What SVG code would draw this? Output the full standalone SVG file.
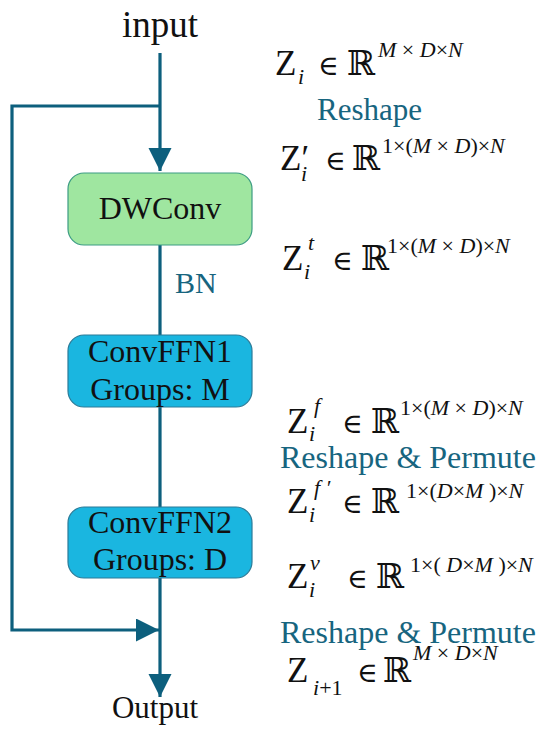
<svg xmlns="http://www.w3.org/2000/svg" width="550" height="736" viewBox="0 0 550 736">
<defs>
<style>
.t{font-family:"Liberation Serif","Times New Roman",serif;fill:#111;}
.lbl{font-size:32px;}
.teal{fill:#17657f;}
.conn{fill:none;stroke:#0d5f7d;stroke-width:3.2;}
.Z{font-family:"Liberation Serif",serif;font-size:35px;fill:#111;}
.sb{font-family:"Liberation Serif",serif;font-size:22px;font-style:italic;fill:#111;}
.sp{font-family:"Liberation Serif",serif;font-size:22px;fill:#111;}
.it{font-style:italic;}
.in{font-family:"DejaVu Serif","Liberation Serif",serif;font-size:28px;fill:#111;}
.R{font-family:"DejaVu Serif","DejaVu Sans",serif;font-size:34px;fill:#111;}
</style>
<marker id="ah" markerUnits="userSpaceOnUse" markerWidth="24" markerHeight="24" refX="23" refY="11.5" orient="auto" viewBox="0 0 24 24">
<path d="M0,0 L23,11.5 L0,23 z" fill="#0d5f7d"/>
</marker>
</defs>
<rect width="550" height="736" fill="#fff"/>

<g id="connectors">
<path class="conn" d="M160,53 V171" marker-end="url(#ah)"/>
<path class="conn" d="M160,106 H12 V630 H159" marker-end="url(#ah)"/>
<path class="conn" d="M160,245 V335"/>
<path class="conn" d="M160,407 V507"/>
<path class="conn" d="M160,578 V697" marker-end="url(#ah)"/>
</g>

<g id="input"><text class="t" x="160" y="37" font-size="37" text-anchor="middle">input</text></g>

<g id="dwconv">
<rect x="68" y="173" width="184" height="72" rx="16" fill="#9fe6a0" stroke="#3c9c83" stroke-width="1.2"/>
<text class="t lbl" x="160" y="219" text-anchor="middle">DWConv</text>
</g>

<g id="bn"><text class="t teal" x="175" y="293" font-size="30">BN</text></g>

<g id="convffn1">
<rect x="68" y="335" width="184" height="72" rx="16" fill="#1ab6e0" stroke="#2b7b98" stroke-width="1.2"/>
<text class="t lbl" x="160" y="362" text-anchor="middle">ConvFFN1</text>
<text class="t lbl" x="160" y="400" text-anchor="middle">Groups: M</text>
</g>

<g id="convffn2">
<rect x="68" y="507" width="184" height="71" rx="16" fill="#1ab6e0" stroke="#2b7b98" stroke-width="1.2"/>
<text class="t lbl" x="160" y="533" text-anchor="middle">ConvFFN2</text>
<text class="t lbl" x="160" y="570" text-anchor="middle">Groups: D</text>
</g>

<g id="output"><text class="t" x="155" y="718" font-size="31" text-anchor="middle">Output</text></g>

<g id="annotations">
<!-- line 1 -->
<text class="Z" x="275" y="75">Z</text>
<text class="sb" x="298" y="84">i</text>
<text class="in" x="318" y="75">∈</text>
<text class="R" x="347" y="75">ℝ</text>
<text class="sp" x="378" y="57"><tspan class="it">M</tspan> × <tspan class="it">D</tspan>×<tspan class="it">N</tspan></text>
<text class="t teal" x="317" y="120" font-size="31">Reshape</text>
<!-- line 2 -->
<text class="Z" x="280" y="170">Z′</text>
<text class="sb" x="301" y="181">i</text>
<text class="in" x="325" y="170">∈</text>
<text class="R" x="352" y="170">ℝ</text>
<text class="sp" x="382" y="153">1×(<tspan class="it">M</tspan> × <tspan class="it">D</tspan>)×<tspan class="it">N</tspan></text>
<!-- line 3 -->
<text class="Z" x="282" y="270">Z</text>
<text class="sb" x="308" y="250">t</text>
<text class="sb" x="304" y="279">i</text>
<text class="in" x="332" y="270">∈</text>
<text class="R" x="361" y="270">ℝ</text>
<text class="sp" x="387" y="253">1×(<tspan class="it">M</tspan> × <tspan class="it">D</tspan>)×<tspan class="it">N</tspan></text>
<!-- line 4 -->
<text class="Z" x="287" y="433">Z</text>
<text class="sb" x="314" y="413">f</text>
<text class="sb" x="309" y="441">i</text>
<text class="in" x="342" y="433">∈</text>
<text class="R" x="371" y="433">ℝ</text>
<text class="sp" x="400" y="415">1×(<tspan class="it">M</tspan> × <tspan class="it">D</tspan>)×<tspan class="it">N</tspan></text>
<text class="t teal" x="280" y="468" font-size="32">Reshape &amp; Permute</text>
<!-- line 5 -->
<text class="Z" x="287" y="513">Z</text>
<text class="sb" x="314" y="495">f ′</text>
<text class="sb" x="309" y="522">i</text>
<text class="in" x="342" y="513">∈</text>
<text class="R" x="371" y="513">ℝ</text>
<text class="sp" x="406" y="498">1×(<tspan class="it">D</tspan>×<tspan class="it">M</tspan> )×<tspan class="it">N</tspan></text>
<!-- line 6 -->
<text class="Z" x="287" y="588">Z</text>
<text class="sb" x="310" y="570">v</text>
<text class="sb" x="309" y="597">i</text>
<text class="in" x="347" y="588">∈</text>
<text class="R" x="376" y="588">ℝ</text>
<text class="sp" x="410" y="572">1×( <tspan class="it">D</tspan>×<tspan class="it">M</tspan> )×<tspan class="it">N</tspan></text>
<text class="t teal" x="280" y="643" font-size="32">Reshape &amp; Permute</text>
<!-- line 7 -->
<text class="Z" x="287" y="682">Z</text>
<text class="sp" x="313" y="695"><tspan class="it">i</tspan>+1</text>
<text class="in" x="357" y="682">∈</text>
<text class="R" x="383" y="682">ℝ</text>
<text class="sp" x="413" y="660"><tspan class="it">M</tspan> × <tspan class="it">D</tspan>×<tspan class="it">N</tspan></text>
</g>
</svg>
